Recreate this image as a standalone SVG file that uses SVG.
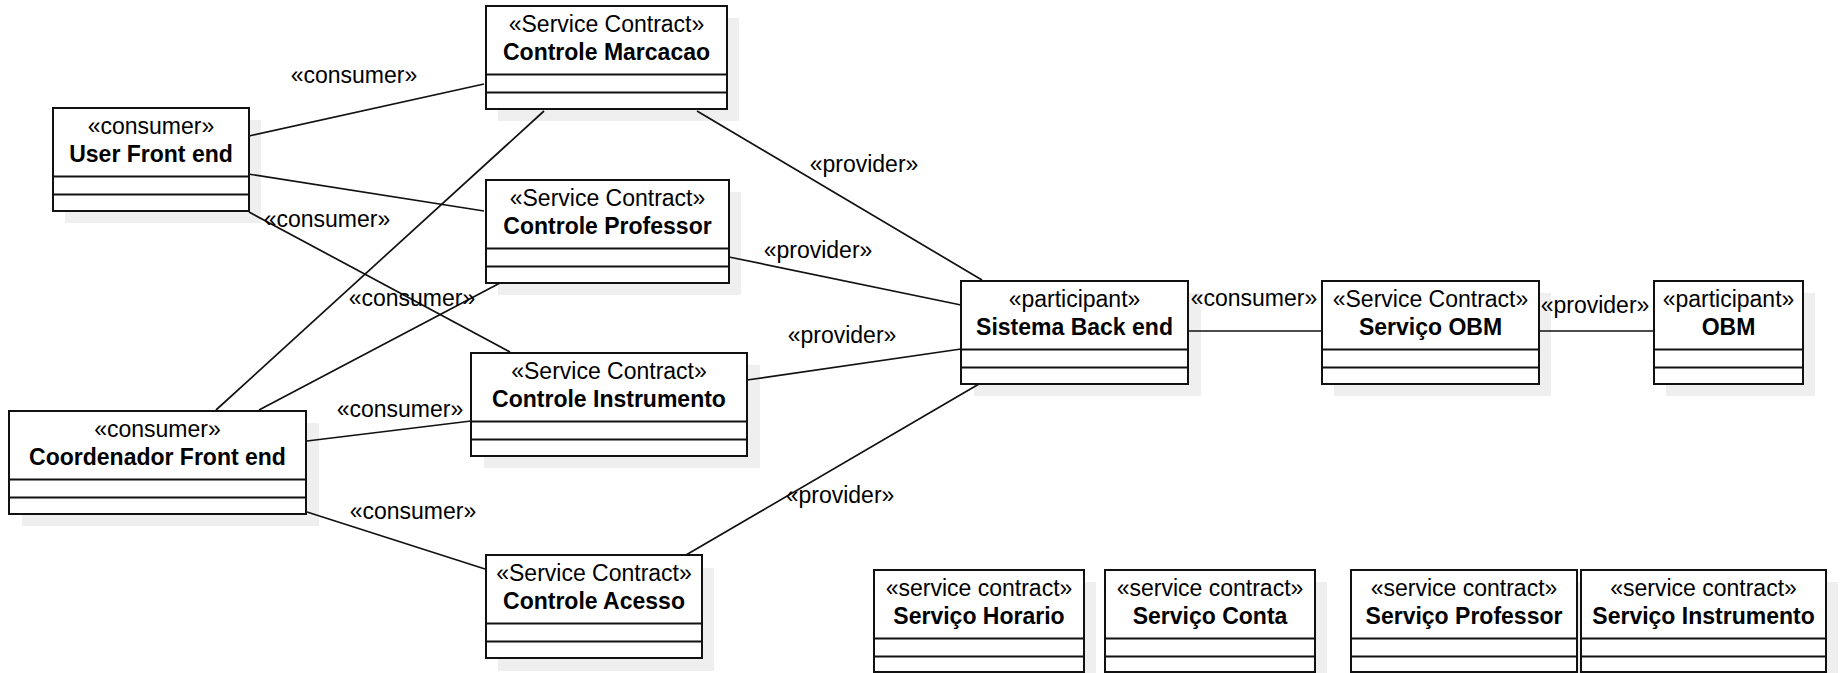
<svg xmlns="http://www.w3.org/2000/svg" width="1845" height="673" viewBox="0 0 1845 673">
<style>
  .sh { fill: #efefef; stroke: none; }
  .bx { fill: #ffffff; stroke: #111111; stroke-width: 2; }
  .dv { stroke: #111111; stroke-width: 2; fill: none; }
  .st { font-family: "Liberation Sans", Arial, sans-serif; font-size: 23px; fill: #000000; text-anchor: middle; }
  .nm { font-family: "Liberation Sans", Arial, sans-serif; font-size: 23px; font-weight: bold; fill: #000000; text-anchor: middle; }
  .cn { stroke: #111111; stroke-width: 1.7; fill: none; }
  .lb { font-family: "Liberation Sans", Arial, sans-serif; font-size: 23px; fill: #000000; text-anchor: middle; }
</style>
<rect width="1845" height="673" fill="#ffffff"/>

<!-- shadows drawn first -->
<g id="shadows">
  <rect class="sh" x="498" y="18" width="241" height="103"/>
  <rect class="sh" x="65" y="120" width="196" height="103"/>
  <rect class="sh" x="498" y="192" width="243" height="103"/>
  <rect class="sh" x="484" y="365" width="276" height="103"/>
  <rect class="sh" x="22" y="423" width="297" height="103"/>
  <rect class="sh" x="498" y="568" width="216" height="103"/>
  <rect class="sh" x="974" y="293" width="227" height="103"/>
  <rect class="sh" x="1334" y="293" width="217" height="103"/>
  <rect class="sh" x="1666" y="293" width="149" height="103"/>
  <rect class="sh" x="886" y="582" width="210" height="103"/>
  <rect class="sh" x="1117" y="582" width="210" height="103"/>
  <rect class="sh" x="1363" y="582" width="226" height="103"/>
  <rect class="sh" x="1593" y="582" width="245" height="103"/>
</g>

<g id="connectors">
  <line class="cn" x1="249" y1="136" x2="484" y2="84"/>
  <line class="cn" x1="248" y1="174" x2="484" y2="211"/>
  <line class="cn" x1="249" y1="212" x2="510" y2="352"/>
  <line class="cn" x1="544" y1="111" x2="216" y2="410"/>
  <line class="cn" x1="500" y1="283" x2="259" y2="410"/>
  <line class="cn" x1="307" y1="441" x2="471" y2="421"/>
  <line class="cn" x1="307" y1="512" x2="485" y2="569"/>
  <line class="cn" x1="697" y1="111" x2="982" y2="280"/>
  <line class="cn" x1="729" y1="257" x2="961" y2="305"/>
  <line class="cn" x1="747" y1="380" x2="961" y2="349"/>
  <line class="cn" x1="979" y1="384" x2="686" y2="555"/>
  <line class="cn" x1="1188" y1="331" x2="1322" y2="331"/>
  <line class="cn" x1="1539" y1="331" x2="1654" y2="331"/>
  <text class="lb" x="354" y="83">«consumer»</text>
  <text class="lb" x="327" y="227">«consumer»</text>
  <text class="lb" x="412" y="306">«consumer»</text>
  <text class="lb" x="400" y="417">«consumer»</text>
  <text class="lb" x="413" y="519">«consumer»</text>
  <text class="lb" x="864" y="172">«provider»</text>
  <text class="lb" x="818" y="258">«provider»</text>
  <text class="lb" x="842" y="343">«provider»</text>
  <text class="lb" x="840" y="503">«provider»</text>
  <text class="lb" x="1254" y="306">«consumer»</text>
  <text class="lb" x="1595" y="313">«provider»</text>
</g>

<g id="controle-marcacao">
  <rect class="bx" x="486" y="6" width="241" height="103"/>
  <path class="dv" d="M486 74.5H727M486 92.5H727"/>
  <text class="st" x="606.5" y="32">«Service Contract»</text>
  <text class="nm" x="606.5" y="59.5">Controle Marcacao</text>
</g>

<g id="user-front-end">
  <rect class="bx" x="53" y="108" width="196" height="103"/>
  <path class="dv" d="M53 176.5H249M53 194.5H249"/>
  <text class="st" x="151" y="134">«consumer»</text>
  <text class="nm" x="151" y="161.5">User Front end</text>
</g>

<g id="controle-professor">
  <rect class="bx" x="486" y="180" width="243" height="103"/>
  <path class="dv" d="M486 248.5H729M486 266.5H729"/>
  <text class="st" x="607.5" y="206">«Service Contract»</text>
  <text class="nm" x="607.5" y="233.5">Controle Professor</text>
</g>

<g id="controle-instrumento">
  <rect class="bx" x="471" y="353" width="276" height="103"/>
  <path class="dv" d="M471 421.5H747M471 439.5H747"/>
  <text class="st" x="609" y="379">«Service Contract»</text>
  <text class="nm" x="609" y="406.5">Controle Instrumento</text>
</g>

<g id="coordenador-front-end">
  <rect class="bx" x="9" y="411" width="297" height="103"/>
  <path class="dv" d="M9 479.5H306M9 497.5H306"/>
  <text class="st" x="157.5" y="437">«consumer»</text>
  <text class="nm" x="157.5" y="464.5">Coordenador Front end</text>
</g>

<g id="controle-acesso">
  <rect class="bx" x="486" y="555" width="216" height="103"/>
  <path class="dv" d="M486 623.5H702M486 641.5H702"/>
  <text class="st" x="594" y="581">«Service Contract»</text>
  <text class="nm" x="594" y="608.5">Controle Acesso</text>
</g>

<g id="sistema-back-end">
  <rect class="bx" x="961" y="281" width="227" height="103"/>
  <path class="dv" d="M961 349.5H1188M961 367.5H1188"/>
  <text class="st" x="1074.5" y="307">«participant»</text>
  <text class="nm" x="1074.5" y="334.5">Sistema Back end</text>
</g>

<g id="servico-obm">
  <rect class="bx" x="1322" y="281" width="217" height="103"/>
  <path class="dv" d="M1322 349.5H1539M1322 367.5H1539"/>
  <text class="st" x="1430.5" y="307">«Service Contract»</text>
  <text class="nm" x="1430.5" y="334.5">Serviço OBM</text>
</g>

<g id="obm">
  <rect class="bx" x="1654" y="281" width="149" height="103"/>
  <path class="dv" d="M1654 349.5H1803M1654 367.5H1803"/>
  <text class="st" x="1728.5" y="307">«participant»</text>
  <text class="nm" x="1728.5" y="334.5">OBM</text>
</g>

<g id="servico-horario">
  <rect class="bx" x="874" y="570" width="210" height="102"/>
  <path class="dv" d="M874 638.5H1084M874 656.5H1084"/>
  <text class="st" x="979" y="596">«service contract»</text>
  <text class="nm" x="979" y="623.5">Serviço Horario</text>
</g>

<g id="servico-conta">
  <rect class="bx" x="1105" y="570" width="210" height="102"/>
  <path class="dv" d="M1105 638.5H1315M1105 656.5H1315"/>
  <text class="st" x="1210" y="596">«service contract»</text>
  <text class="nm" x="1210" y="623.5">Serviço Conta</text>
</g>

<g id="servico-professor">
  <rect class="bx" x="1351" y="570" width="226" height="102"/>
  <path class="dv" d="M1351 638.5H1577M1351 656.5H1577"/>
  <text class="st" x="1464" y="596">«service contract»</text>
  <text class="nm" x="1464" y="623.5">Serviço Professor</text>
</g>

<g id="servico-instrumento">
  <rect class="bx" x="1581" y="570" width="245" height="102"/>
  <path class="dv" d="M1581 638.5H1826M1581 656.5H1826"/>
  <text class="st" x="1703.5" y="596">«service contract»</text>
  <text class="nm" x="1703.5" y="623.5">Serviço Instrumento</text>
</g>
</svg>
